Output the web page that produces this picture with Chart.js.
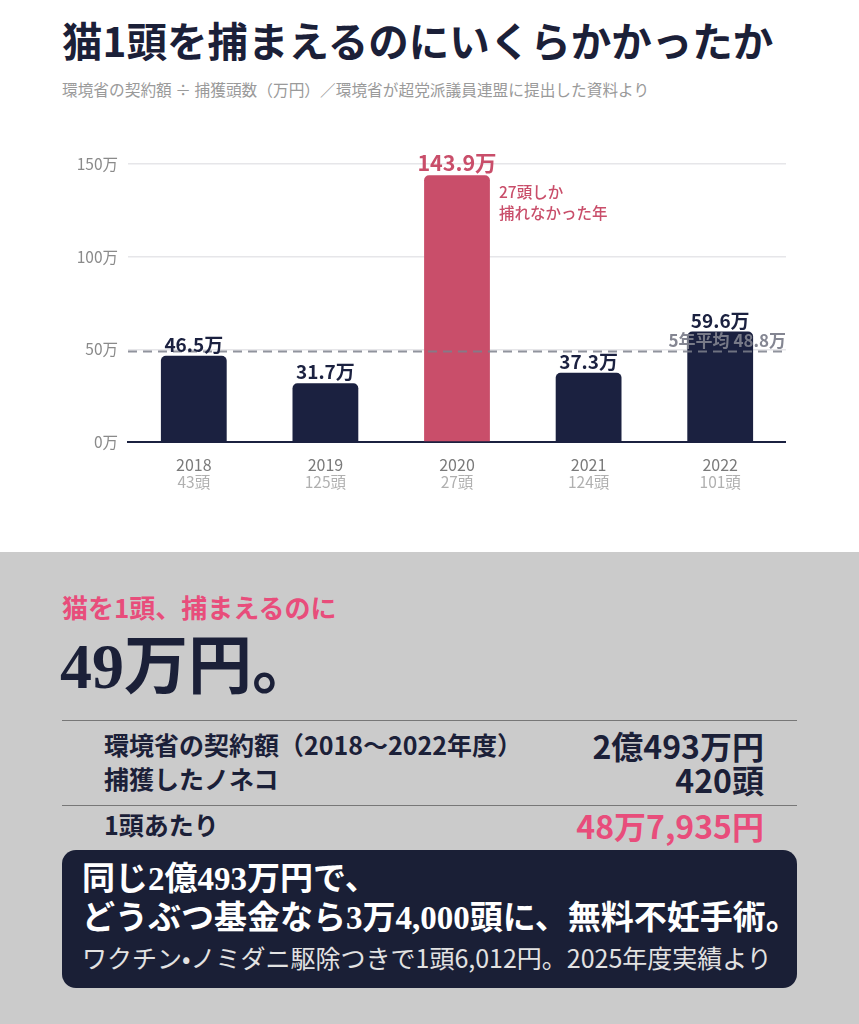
<!DOCTYPE html>
<html lang="ja">
<head>
<meta charset="utf-8">
<script src="https://cdn.jsdelivr.net/npm/chart.js@4.4.1/dist/chart.umd.min.js"></script>
<style>
  html, body { margin: 0; padding: 0; }
  body {
    width: 859px; height: 1024px; position: relative; overflow: hidden;
    background: #fff; font-family: "Noto Sans CJK JP", "Noto Sans", sans-serif; color: #1b2038;
  }
  div { line-height: 1; white-space: nowrap; }
  .title { position: absolute; left: 62px; top: 20px; font-size: 40.5px; font-weight: 700; }
  .sub { position: absolute; left: 62px; top: 82px; font-size: 15.7px; color: #9a9a9a; }
  .chart-wrap { position: absolute; left: 40px; top: 130px; width: 746px; height: 370px; }
  .lower { position: absolute; left: 0; top: 552px; width: 859px; height: 472px; background: #cbcbcb; }
  .lead { position: absolute; left: 62px; top: 42px; font-size: 26px; font-weight: 700; color: #e84d7b; }
  .big { position: absolute; left: 60px; top: 83px; font-size: 64px; font-weight: 700;
    font-family: "Liberation Serif", "Noto Sans CJK JP", serif; color: #1b2038; }
  .rule { position: absolute; left: 62px; width: 735px; height: 0; border-top: 1.5px solid #777; }
  .k { position: absolute; left: 104px; font-size: 25px; font-weight: 700; }
  .v { position: absolute; right: 95px; font-size: 32px; font-weight: 700; }
  .box { position: absolute; left: 62px; top: 298px; width: 735px; height: 138px; background: #1a1f36;
    border-radius: 14px; color: #fff; }
  .box .l1, .box .l2 { position: absolute; left: 20px; font-size: 33px; font-weight: 700;
    font-family: "Liberation Serif", "Noto Sans CJK JP", serif; }
  .box .l3 { position: absolute; left: 20px; top: 95px; font-size: 25px; color: #e2e2e2; }
</style>
</head>
<body>
<div class="title">猫1頭を捕まえるのにいくらかかったか</div>
<div class="sub">環境省の契約額 ÷ 捕獲頭数（万円）／環境省が超党派議員連盟に提出した資料より</div>
<div class="chart-wrap"><canvas id="chart"></canvas></div>

<div class="lower">
  <div class="lead">猫を1頭、捕まえるのに</div>
  <div class="big">49万円。</div>
  <div class="rule" style="top:168px"></div>
  <div class="k" style="top:180px">環境省の契約額（2018〜2022年度）</div>
  <div class="v" style="top:177px">2億493万円</div>
  <div class="k" style="top:214px">捕獲したノネコ</div>
  <div class="v" style="top:211px">420頭</div>
  <div class="rule" style="top:253px"></div>
  <div class="k" style="top:260px">1頭あたり</div>
  <div class="v" style="top:257px;color:#e84d7b">48万7,935円</div>
  <div class="box">
    <div class="l1" style="top:13px">同じ2億493万円で、</div>
    <div class="l2" style="top:52px">どうぶつ基金なら3万4,000頭に、無料不妊手術。</div>
    <div class="l3">ワクチン•ノミダニ駆除つきで1頭6,012円。2025年度実績より</div>
  </div>
</div>

<script>
const years = ["2018", "2019", "2020", "2021", "2022"];
const catCounts = ["43頭", "125頭", "27頭", "124頭", "101頭"];
const costs = [46.5, 31.7, 143.9, 37.3, 59.6];
const average = 48.8;
const highlightYear = "2020";
const highlightNote = ["27頭しか", "捕れなかった年"];

const NAVY = "#1b2140";
const PINK = "#c94e6a";
const FONT = '"Noto Sans CJK JP", "Noto Sans", sans-serif';

const barColors = years.map((y) => (y === highlightYear ? PINK : NAVY));

// labels, average line and counts under the years
const overlay = {
  id: "overlay",
  afterDatasetsDraw(chart) {
    const ctx = chart.ctx;
    const area = chart.chartArea;
    const x = chart.scales.x;
    const y = chart.scales.y;
    const bars = chart.getDatasetMeta(0).data;

    // 5-year average
    const ay = y.getPixelForValue(average);
    ctx.save();
    ctx.strokeStyle = "rgba(125,128,140,0.85)";
    ctx.lineWidth = 2;
    ctx.setLineDash([9, 6]);
    ctx.beginPath();
    ctx.moveTo(area.left, ay);
    ctx.lineTo(area.right, ay);
    ctx.stroke();
    ctx.setLineDash([]);
    ctx.fillStyle = "rgba(125,128,140,0.95)";
    ctx.font = "700 17px " + FONT;
    ctx.textAlign = "right";
    ctx.textBaseline = "middle";
    ctx.fillText("5年平均 48.8万", area.right, ay - 11);

    // value labels
    ctx.textAlign = "center";
    ctx.textBaseline = "alphabetic";
    bars.forEach((bar, i) => {
      const hi = years[i] === highlightYear;
      ctx.fillStyle = hi ? PINK : NAVY;
      ctx.font = "700 " + (hi ? 21.5 : 19) + "px " + FONT;
      ctx.fillText(costs[i].toFixed(1) + "万", bar.x, bar.y - 4);
      if (hi) {
        ctx.textAlign = "left";
        ctx.textBaseline = "middle";
        ctx.font = "500 15.5px " + FONT;
        highlightNote.forEach((t, j) => {
          ctx.fillText(t, bar.x + 42, bar.y + 17 + j * 21);
        });
        ctx.textAlign = "center";
        ctx.textBaseline = "alphabetic";
      }
    });

    // counts under the year ticks
    ctx.fillStyle = "#b0b0b0";
    ctx.font = "400 15.5px " + FONT;
    ctx.textBaseline = "middle";
    catCounts.forEach((c, i) => {
      ctx.fillText(c, x.getPixelForValue(i), area.bottom + 40);
    });
    ctx.restore();
  },
};

new Chart(document.getElementById("chart"), {
  type: "bar",
  data: {
    labels: years,
    datasets: [{
      data: costs,
      backgroundColor: barColors,
      borderRadius: { topLeft: 5, topRight: 5 },
      borderSkipped: "bottom",
      categoryPercentage: 1,
      barPercentage: 0.5,
    }],
  },
  options: {
    responsive: true,
    maintainAspectRatio: false,
    animation: false,
    layout: { padding: { top: 34, right: 0, left: 0, bottom: 0 } },
    plugins: { legend: { display: false }, tooltip: { enabled: false } },
    scales: {
      x: {
        grid: { display: false },
        border: { color: NAVY, width: 2 },
        ticks: { color: "#7a7a7a", font: { family: FONT, size: 16 }, padding: 5 },
        afterFit(scale) { scale.height = 58; },
      },
      y: {
        min: 0,
        max: 150,
        ticks: {
          stepSize: 50,
          color: "#8a8a8a",
          font: { family: FONT, size: 15.5 },
          padding: 10,
          callback: (v) => v + "万",
        },
        grid: { color: "#e6e6e9", lineWidth: 1.5, drawTicks: false },
        border: { display: false },
        afterFit(scale) { scale.width = 88; },
      },
    },
  },
  plugins: [overlay],
});
</script>
</body>
</html>
